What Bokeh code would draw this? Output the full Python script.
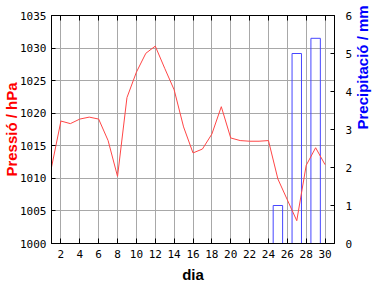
from bokeh.plotting import figure
from bokeh.models import Range1d, LinearAxis, FixedTicker, CustomLabelingPolicy
from bokeh.embed import file_html
from bokeh.resources import INLINE

# ---- data ----
days = [1, 2, 3, 4, 5, 6, 7, 8, 9, 10, 11, 12, 13, 14, 15,
        16, 17, 18, 19, 20, 21, 22, 23, 24, 25, 26, 27, 28, 29, 30]
pressure = [1011.7, 1018.8, 1018.4, 1019.1, 1019.4, 1019.1, 1015.8, 1010.3,
            1022.4, 1026.3, 1029.2, 1030.3, 1026.9, 1023.6, 1017.9, 1013.9,
            1014.5, 1016.8, 1021.0, 1016.2, 1015.8, 1015.7, 1015.7, 1015.8,
            1009.9, 1006.7, 1003.5, 1012.0, 1014.7, 1012.1]
rain_days = [25, 27, 29]
rain_mm = [1.0, 5.0, 5.4]
x_ticks = [2, 4, 6, 8, 10, 12, 14, 16, 18, 20, 22, 24, 26, 28, 30]
p_ticks = [1000, 1005, 1010, 1015, 1020, 1025, 1030, 1035]
r_ticks = [0, 1, 2, 3, 4, 5, 6]

TICK_FONT = "DejaVu Sans Mono"
TITLE_FONT = "Liberation Sans"

p = figure(width=384, height=288, x_range=Range1d(1, 31),
           y_range=Range1d(1000, 1035), output_backend="svg",
           toolbar_location=None, min_border_left=49, min_border_right=50,
           min_border_top=15, min_border_bottom=45)
p.extra_y_ranges = {"rain": Range1d(0, 6)}
p.background_fill_color = "white"
p.border_fill_color = "white"
p.outline_line_color = "black"
p.outline_line_width = 1

# grids
p.xgrid.ticker = FixedTicker(ticks=x_ticks)
p.ygrid.ticker = FixedTicker(ticks=p_ticks)
for g in (p.xgrid, p.ygrid):
    g.grid_line_color = "#a8a8a8"
    g.grid_line_width = 1

def style_axis(ax, tick_in, standoff):
    ax.major_tick_in = tick_in
    ax.major_tick_out = 0
    ax.minor_tick_line_color = None
    ax.axis_line_color = "black"
    ax.major_tick_line_color = "black"
    ax.major_label_text_font = TICK_FONT
    ax.major_label_text_font_size = "11px"
    ax.major_label_text_color = "black"
    ax.major_label_standoff = standoff

# bottom axis
xa = p.xaxis[0]
xa.ticker = FixedTicker(ticks=x_ticks)
style_axis(xa, 5, 6)
xa.axis_label = "dia"
xa.axis_label_text_font = TITLE_FONT
xa.axis_label_text_font_size = "15px"
xa.axis_label_text_font_style = "bold"
xa.axis_label_text_color = "black"
xa.axis_label_standoff = 5

# left axis
ya = p.yaxis[0]
ya.ticker = FixedTicker(ticks=p_ticks)
style_axis(ya, 4, 5)
ya.axis_label = "Pressió / hPa"
ya.axis_label_text_font = TITLE_FONT
ya.axis_label_text_font_size = "15px"
ya.axis_label_text_font_style = "bold"
ya.axis_label_text_color = "red"
ya.axis_label_standoff = -3

# right axis
ra = LinearAxis(y_range_name="rain", ticker=FixedTicker(ticks=r_ticks))
style_axis(ra, 4, 11)
ra.axis_label = "Precipitació / mm"
ra.axis_label_text_font = TITLE_FONT
ra.axis_label_text_font_size = "15px"
ra.axis_label_text_font_style = "bold"
ra.axis_label_text_color = "blue"
ra.axis_label_standoff = 7
if "axis_label_orientation" in ra.properties():
    ra.axis_label_orientation = 1.5707963267948966
p.add_layout(ra, "right")

# top axis: ticks only, no labels
ta = LinearAxis(ticker=FixedTicker(ticks=x_ticks))
style_axis(ta, 5, 0)
ta.major_label_policy = CustomLabelingPolicy(
    code="const ids = [...indices]; for (const i of ids) indices.unset(i); return indices;")
p.add_layout(ta, "above")

# glyphs
p.vbar(x=rain_days, top=rain_mm, width=1.0, bottom=0, y_range_name="rain",
       fill_color=None, line_color="#4646ff", line_width=1)
p.line(days, pressure, line_color="#ff4646", line_width=1)

open("out.html", "w").write(file_html(p, INLINE))
